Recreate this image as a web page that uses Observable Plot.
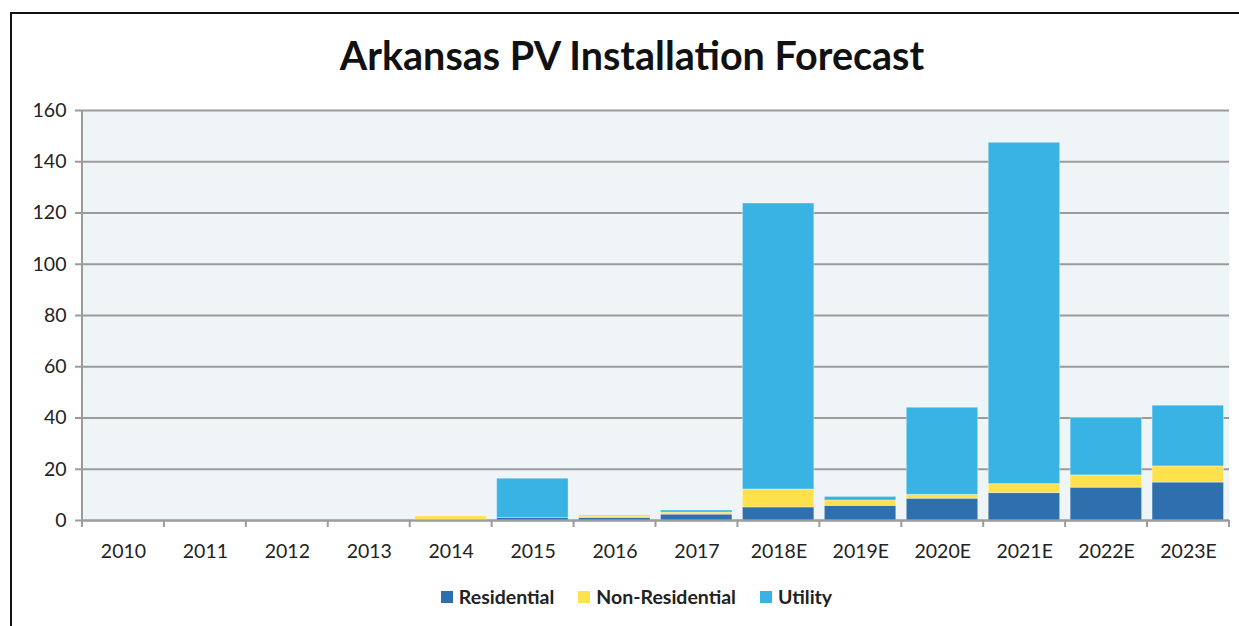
<!DOCTYPE html>
<html>
<head>
<meta charset="utf-8">
<script src="https://cdn.jsdelivr.net/npm/d3@7"></script>
<script src="https://cdn.jsdelivr.net/npm/@observablehq/plot@0.6"></script>
<style>
  html, body { margin: 0; padding: 0; background: #fff; }
  body { width: 1239px; height: 626px; overflow: hidden; position: relative; font-family: Lato, "Open Sans", sans-serif; }
  #border { position: absolute; left: 10px; top: 12px; width: 1229px; height: 614px; border-left: 2px solid #111; border-top: 2px solid #111; box-sizing: border-box; }
  #title { position: absolute; left: 0; top: 31px; width: 1264px; text-align: center; font-size: 39.5px; font-weight: bold; color: #111; }
  #chart { position: absolute; left: 0; top: 90px; }
  #legend { position: absolute; left: 0; top: 585px; width: 1273px; display: flex; justify-content: center; gap: 24px; font-size: 19.5px; font-weight: bold; color: #222; }
  .item { display: flex; align-items: center; gap: 6px; }
  .sw { width: 12px; height: 12px; display: inline-block; }
</style>
</head>
<body>
<div id="border"></div>
<div id="title">Arkansas PV Installation Forecast</div>
<div id="chart"></div>
<div id="legend"></div>
<script>
const years = ["2010","2011","2012","2013","2014","2015","2016","2017","2018E","2019E","2020E","2021E","2022E","2023E"];
const residential    = [0,0,0,0,0,   1,  1,  2.3, 5.1, 5.7, 8.5, 10.7, 12.8, 14.8];
const nonResidential = [0,0,0,0,1.6, 0,  0.6,0.8, 7.0, 2.1, 1.5, 3.5,  4.8,  6.3];
const utility        = [0,0,0,0,0,   15.3,0.2,0.8,111.6,1.4,34.0,133.2,22.4, 23.7];
const seriesNames = ["Residential","Non-Residential","Utility"];
const seriesColors = ["#2E6FAD","#FFE04D","#38B3E4"];
const yTicks = [0,20,40,60,80,100,120,140,160];

const seriesValues = [residential, nonResidential, utility];
const rows = [];
years.forEach((yr, i) => {
  seriesNames.forEach((s, j) => rows.push({year: yr, series: s, value: seriesValues[j][i]}));
});

const axisColor = "#9B9B9B";

function leftAxisLine(index, scales, values, dimensions) {
  const {marginLeft, marginTop, height, marginBottom} = dimensions;
  const g = d3.create("svg:g");
  g.append("line")
    .attr("x1", marginLeft).attr("x2", marginLeft)
    .attr("y1", marginTop).attr("y2", height - marginBottom)
    .attr("stroke", axisColor).attr("stroke-width", 2);
  return g.node();
}

function bandBoundaryTicks(index, scales, values, dimensions) {
  const {marginLeft, width, marginRight, height, marginBottom} = dimensions;
  const step = (width - marginLeft - marginRight) / years.length;
  const y0 = height - marginBottom;
  const g = d3.create("svg:g");
  for (let i = 0; i <= years.length; i++) {
    const px = marginLeft + i * step;
    g.append("line").attr("x1", px).attr("x2", px).attr("y1", y0).attr("y2", y0 + 7)
      .attr("stroke", axisColor).attr("stroke-width", 2);
  }
  return g.node();
}

const chart = Plot.plot({
  width: 1239,
  height: 480,
  marginLeft: 82,
  marginRight: 10,
  marginTop: 20,
  marginBottom: 50,
  style: {background: "transparent", fontFamily: "Lato, 'Open Sans', sans-serif"},
  x: {domain: years, padding: 0, round: false, label: null},
  y: {domain: [0, 160], label: null},
  color: {domain: seriesNames, range: seriesColors},
  marks: [
    Plot.frame({fill: "#EFF4F7", stroke: null}),
    Plot.ruleY(yTicks, {stroke: axisColor, strokeWidth: 2}),
    Plot.axisY({ticks: yTicks, tickSize: 7, tickPadding: 9, stroke: axisColor, strokeWidth: 2, fontSize: 19.5, fill: "#222", label: null}),
    Plot.axisX({tickSize: 0, tickPadding: 24, fontSize: 19.5, fill: "#222", label: null}),
    leftAxisLine,
    bandBoundaryTicks,
    Plot.barY(rows, Plot.stackY({x: "year", y: "value", fill: "series", order: seriesNames, insetLeft: 5, insetRight: 5.5, stroke: "#ffffff", strokeOpacity: 0.35, strokeWidth: 1})),
    Plot.ruleY([0], {stroke: axisColor, strokeWidth: 2})
  ]
});
document.getElementById("chart").appendChild(chart);

const legend = document.getElementById("legend");
seriesNames.forEach((s, i) => {
  const it = document.createElement("div");
  it.className = "item";
  const sw = document.createElement("span");
  sw.className = "sw";
  sw.style.background = seriesColors[i];
  const t = document.createElement("span");
  t.textContent = s;
  it.appendChild(sw); it.appendChild(t);
  legend.appendChild(it);
});
</script>
</body>
</html>
